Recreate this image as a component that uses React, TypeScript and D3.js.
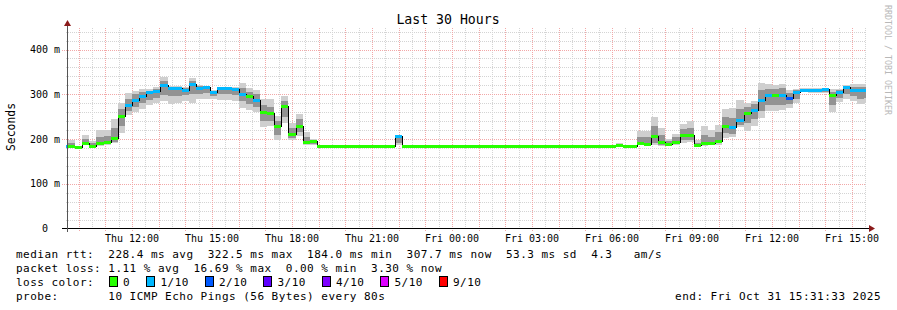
import React from "react";
import * as d3 from "d3";

// ---------- data (16‑minute bins starting Thu 2025‑10‑30 09:20 UTC) ----------
const binStartUTC = Date.UTC(2025, 9, 30, 9, 20, 0);
const binMinutes = 16;
const viewStart = new Date(Date.UTC(2025, 9, 30, 9, 31, 33));
const viewEnd = new Date(Date.UTC(2025, 9, 31, 15, 31, 33));

const median = [
  185, 184, 183, 192, 185, 192, 194, 203, 252, 275,
  288, 297, 304, 307, 321, 313, 313, 310, 323, 315,
  317, 304, 314, 314, 311, 301, 295, 287, 260, 257,
  229, 274, 212, 230, 194, 195, 184, 184, 184, 184,
  184, 184, 184, 184, 184, 184, 184, 206, 184, 184,
  184, 184, 184, 184, 184, 184, 184, 184, 184, 184,
  184, 184, 184, 184, 184, 184, 184, 184, 184, 184,
  184, 184, 184, 184, 184, 184, 184, 184, 186.5, 184,
  184, 190, 189, 206, 193, 189, 194, 210, 208, 186,
  190, 191, 196, 230, 226, 243, 257, 265, 288, 299,
  298, 299, 292, 304, 310, 310, 310, 311, 298, 306,
  316, 309, 309, 309,
];

// packet loss per bin in tenths (0 = 0/10, 1 = 1/10, 2 = 2/10)
const loss = [
  1, 0, 0, 0, 0, 0, 0, 0, 0, 1,
  1, 1, 1, 1, 1, 1, 1, 1, 1, 1,
  1, 1, 1, 1, 1, 1, 0, 1, 0, 0,
  0, 0, 0, 0, 0, 0, 0, 0, 0, 0,
  0, 0, 0, 0, 0, 0, 0, 1, 0, 0,
  0, 0, 0, 0, 0, 0, 0, 0, 0, 0,
  0, 0, 0, 0, 0, 0, 0, 0, 0, 0,
  0, 0, 0, 0, 0, 0, 0, 0, 0, 0,
  0, 0, 0, 0, 0, 0, 0, 0, 0, 0,
  0, 0, 0, 0, 1, 1, 0, 1, 1, 1,
  0, 1, 2, 1, 1, 1, 1, 1, 0, 1,
  1, 1, 1, 1,
];

// smoke: outer range (min/max ping) and inner range
const smokeLo = [
  183, 183, 182, 186, 183, 185, 186, 190, 213, 254,
  261, 268, 275, 281, 284, 279, 281, 286, 280, 289,
  289, 290, 287, 287, 284, 269, 265, 261, 227, 230,
  198, 236, 197, 206, 187, 187, 183, 183, 183, 183,
  183, 183, 183, 183, 183, 183, 183, 186, 183, 183,
  183, 183, 183, 183, 183, 183, 183, 183, 183, 183,
  183, 183, 183, 183, 183, 183, 183, 183, 183, 183,
  183, 183, 183, 183, 183, 183, 183, 183, 184, 183,
  183, 186, 185, 187, 185, 185, 186, 191, 193, 183,
  185, 186, 187, 203, 205, 226, 217, 228, 247, 262,
  262, 264, 270, 280, 305, 303, 302, 302, 260, 282,
  290, 285, 278, 280,
];
const smokeHi = [
  187, 198, 185, 210, 196, 219, 221, 245, 281, 302,
  308, 311, 312, 316, 338, 319, 318, 316, 336, 320,
  319, 310, 317, 317, 316, 325, 314, 309, 290, 289,
  251, 297, 236, 255, 215, 200, 185, 185, 185, 185,
  185, 185, 185, 185, 185, 185, 185, 208, 185, 185,
  185, 185, 185, 185, 185, 185, 185, 185, 185, 185,
  185, 185, 185, 185, 185, 185, 185, 185, 185, 185,
  185, 185, 185, 185, 185, 185, 185, 185, 191, 185,
  186, 217, 217, 249, 225, 200, 212, 234, 240, 197,
  228, 219, 232, 268, 270, 288, 281, 285, 326, 322,
  321, 323, 309, 312, 314, 314, 314, 315, 311, 312,
  320, 322, 322, 322,
];
const innerLo = [
  184, 184, 183, 188, 184, 187, 188, 194, 230, 262,
  272, 280, 288, 292, 298, 295, 297, 298, 300, 300,
  302, 296, 300, 300, 298, 284, 278, 272, 240, 240,
  210, 250, 203, 215, 189, 189, 184, 184, 184, 184,
  184, 184, 184, 184, 184, 184, 184, 192, 184, 184,
  184, 184, 184, 184, 184, 184, 184, 184, 184, 184,
  184, 184, 184, 184, 184, 184, 184, 184, 184, 184,
  184, 184, 184, 184, 184, 184, 184, 184, 185, 184,
  184, 187, 186, 192, 187, 186, 188, 198, 198, 184,
  187, 188, 190, 213, 212, 232, 235, 245, 262, 275,
  275, 276, 278, 290, 307, 306, 305, 306, 275, 292,
  300, 295, 290, 292,
];
const innerHi = [
  186, 190, 184, 200, 190, 205, 206, 225, 268, 290,
  300, 305, 308, 311, 330, 316, 316, 313, 330, 318,
  318, 308, 316, 316, 314, 314, 305, 300, 276, 272,
  240, 286, 225, 244, 204, 197, 184, 184, 184, 184,
  184, 184, 184, 184, 184, 184, 184, 207, 184, 184,
  184, 184, 184, 184, 184, 184, 184, 184, 184, 184,
  184, 184, 184, 184, 184, 184, 184, 184, 184, 184,
  184, 184, 184, 184, 184, 184, 184, 184, 188, 184,
  185, 205, 205, 228, 210, 195, 204, 222, 225, 192,
  210, 205, 215, 250, 248, 268, 272, 278, 310, 312,
  312, 313, 302, 309, 312, 312, 312, 313, 305, 309,
  318, 316, 316, 316,
];

const lossColors = ["#26ff00", "#00b8ff", "#0059ff", "#5e00ff", "#7e00ff", "#dd00ff", "#ff0000"];
const lossLabels = ["0", "1/10", "2/10", "3/10", "4/10", "5/10", "9/10"];

const yTickValues = [0, 100, 200, 300, 400];
const yTickLabels = ["0", "100 m", "200 m", "300 m", "400 m"];
const xTickTimes = [
  Date.UTC(2025, 9, 30, 12), Date.UTC(2025, 9, 30, 15), Date.UTC(2025, 9, 30, 18),
  Date.UTC(2025, 9, 30, 21), Date.UTC(2025, 9, 31, 0), Date.UTC(2025, 9, 31, 3),
  Date.UTC(2025, 9, 31, 6), Date.UTC(2025, 9, 31, 9), Date.UTC(2025, 9, 31, 12),
  Date.UTC(2025, 9, 31, 15),
];
const xTickLabels = [
  "Thu 12:00", "Thu 15:00", "Thu 18:00", "Thu 21:00", "Fri 00:00",
  "Fri 03:00", "Fri 06:00", "Fri 09:00", "Fri 12:00", "Fri 15:00",
];

const legendLine1 = "median rtt:  228.4 ms avg  322.5 ms max  184.0 ms min  307.7 ms now  53.3 ms sd  4.3   am/s";
const legendLine2 = "packet loss: 1.11 % avg  16.69 % max  0.00 % min  3.30 % now";
const legendLine3 = "loss color:";
const legendLine4 = "probe:       10 ICMP Echo Pings (56 Bytes) every 80s";
const legendEnd = "end: Fri Oct 31 15:31:33 2025";

// ---------- layout ----------
const W = 897;
const H = 310;
const X0 = 66;
const X1 = 866;
const Y0 = 228.5;
const mono = "'DejaVu Sans Mono', 'Liberation Mono', monospace";

export default function App() {
  const x = d3.scaleUtc().domain([viewStart, viewEnd]).range([X0, X1]);
  const y = d3.scaleLinear().domain([0, 450]).range([Y0, Y0 - 0.4475 * 450]);
  const yTop = Math.round(y(450));

  const binT = (i: number) => new Date(binStartUTC + i * binMinutes * 60000);
  const bx = (i: number) => Math.round(x(binT(i)));

  const minorX = d3.utcMinute.every(30)!.range(viewStart, viewEnd).filter((d) => d.getUTCMinutes() === 30);
  const majorX = d3.utcHour.range(viewStart, viewEnd);
  const minorY = d3.range(20, 450, 20).filter((v) => v % 100 !== 0);
  const majorY = [100, 200, 300, 400];

  const stepLine = d3
    .line<number>()
    .x((_, i) => bx(i))
    .y((d) => Math.round(y(d)) + 0.5)
    .curve(d3.curveStepAfter);
  const stepPts = [...median, median[median.length - 1]];

  const legendCharW = 7.1;
  const legendX = 16;
  const legendStyle: React.CSSProperties = { whiteSpace: "pre" };
  const fontLegend = 11;
  const letterSp = legendCharW - fontLegend * 0.602;

  const boxPos: number[] = [];
  let bxPos = 108.5;
  lossLabels.forEach((l) => {
    boxPos.push(bxPos);
    bxPos += 30.5 + 7 * l.length;
  });

  const yAxisBottom = Math.floor(Y0);

  return (
    <svg width={W} height={H} style={{ display: "block", position: "absolute", left: 0, top: 0, background: "#fff" }}>
      <rect x={0} y={0} width={W} height={H} fill="#fff" />
      <defs>
        <clipPath id="plotClip">
          <rect x={X0} y={yTop} width={X1 - X0} height={Y0 - yTop} />
        </clipPath>
        <pattern id="vGray" x={0} y={0} width={1} height={2} patternUnits="userSpaceOnUse">
          <rect x={0} y={0} width={1} height={1} fill="#d4d4d4" />
        </pattern>
        <pattern id="hGray" x={0} y={0} width={2} height={1} patternUnits="userSpaceOnUse">
          <rect x={0} y={0} width={1} height={1} fill="#d4d4d4" />
        </pattern>
        <pattern id="vRed" x={0} y={0} width={1} height={2} patternUnits="userSpaceOnUse">
          <rect x={0} y={0} width={1} height={1} fill="#f2a8a8" />
        </pattern>
        <pattern id="hRed" x={0} y={0} width={2} height={1} patternUnits="userSpaceOnUse">
          <rect x={0} y={0} width={1} height={1} fill="#f2a8a8" />
        </pattern>
      </defs>

      <text x={448} y={24} textAnchor="middle" fontFamily={mono} fontSize={13.2} fill="#000">
        Last 30 Hours
      </text>

      {/* grid (dotted, pixel patterns) */}
      <g shapeRendering="crispEdges">
        {minorX.map((d, i) => {
          const xx = Math.round(x(d));
          return <rect key={"mx" + i} x={xx} y={yTop} width={1} height={yAxisBottom - yTop} fill="url(#vGray)" />;
        })}
        {minorY.map((v, i) => {
          const yy = Math.round(y(v));
          return <rect key={"my" + i} x={X0} y={yy} width={X1 - X0} height={1} fill="url(#hGray)" />;
        })}
        {majorX.map((d, i) => {
          const xx = Math.round(x(d));
          return <rect key={"Mx" + i} x={xx} y={yTop} width={1} height={yAxisBottom - yTop + 4} fill="url(#vRed)" />;
        })}
        {majorY.map((v, i) => {
          const yy = Math.round(y(v));
          return <rect key={"My" + i} x={X0 - 4} y={yy} width={X1 - X0 + 4} height={1} fill="url(#hRed)" />;
        })}
      </g>

      {/* smoke, median */}
      <g clipPath="url(#plotClip)" shapeRendering="crispEdges">
        {median.map((_, i) => {
          const x0 = bx(i);
          const x1 = bx(i + 1);
          return (
            <g key={"s" + i}>
              <rect x={x0} width={x1 - x0} y={y(smokeHi[i])} height={Math.max(0, y(smokeLo[i]) - y(smokeHi[i]))} fill="#cfcfcf" />
              <rect x={x0} width={x1 - x0} y={y(innerHi[i])} height={Math.max(0, y(innerLo[i]) - y(innerHi[i]))} fill="#939393" />
            </g>
          );
        })}
        <path d={stepLine(stepPts) || ""} fill="none" stroke="#000" strokeWidth={1} />
        {median.map((m, i) => {
          const x0 = bx(i);
          const x1 = bx(i + 1);
          const yy = Math.round(y(m));
          return <rect key={"m" + i} x={x0} width={x1 - x0} y={yy - 1} height={3} fill={lossColors[loss[i]]} />;
        })}
      </g>

      {/* axes */}
      <g shapeRendering="crispEdges">
        <line x1={62} x2={869} y1={Y0} y2={Y0} stroke="#000" />
        <line x1={67.5} x2={67.5} y1={Y0 + 3} y2={25} stroke="#555" />
      </g>
      <path d="M64,26 L71,26 L67.5,20 Z" fill="#8b1a1a" />
      <path d="M869,225 L869,232 L875,228.5 Z" fill="#8b1a1a" />

      {yTickValues.map((v, i) => (
        <text
          key={"yl" + i}
          x={yTickLabels[i].includes(" ") ? 60 : 48}
          y={y(v) + 3.5}
          textAnchor="end"
          fontFamily={mono}
          fontSize={10}
          fill="#000"
          style={{ whiteSpace: "pre" }}
        >
          {yTickLabels[i]}
        </text>
      ))}

      {xTickTimes.map((t, i) => (
        <text key={"xl" + i} x={x(new Date(t))} y={242} textAnchor="middle" fontFamily={mono} fontSize={10} fill="#000" style={{ whiteSpace: "pre" }}>
          {xTickLabels[i]}
        </text>
      ))}

      <text transform="translate(15,127) rotate(-90)" textAnchor="middle" fontFamily={mono} fontSize={11.4} fill="#000">
        Seconds
      </text>

      <text transform="translate(885,5) rotate(90)" textAnchor="start" fontFamily={mono} fontSize={8.3} fill="#b8b8b8">
        RRDTOOL / TOBI OETIKER
      </text>

      <g fontFamily={mono} fontSize={fontLegend} fill="#000" letterSpacing={letterSp}>
        <text x={legendX} y={258} style={legendStyle}>{legendLine1}</text>
        <text x={legendX} y={272} style={legendStyle}>{legendLine2}</text>
        <text x={legendX} y={286} style={legendStyle}>{legendLine3}</text>
        {lossLabels.map((l, i) => (
          <g key={"lg" + i}>
            <rect x={boxPos[i] + 0.5} y={276.5} width={8} height={10} fill={lossColors[i]} stroke="#000" strokeWidth={1} shapeRendering="crispEdges" />
            <text x={boxPos[i] + 14.5} y={286} style={legendStyle}>{l}</text>
          </g>
        ))}
        <text x={legendX} y={300} style={legendStyle}>{legendLine4}</text>
        <text x={881} y={300} textAnchor="end" style={legendStyle}>{legendEnd}</text>
      </g>
    </svg>
  );
}
